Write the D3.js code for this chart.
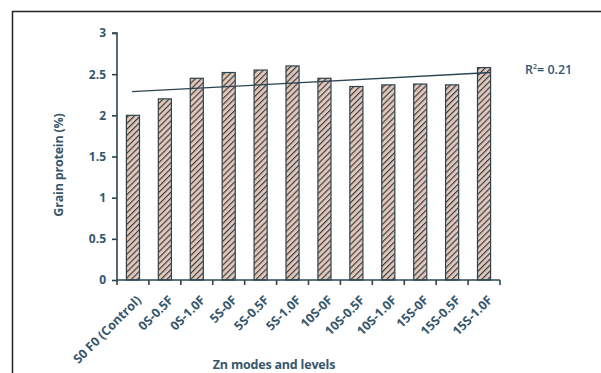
<!DOCTYPE html>
<html>
<head>
<meta charset="utf-8">
<script src="https://cdn.jsdelivr.net/npm/d3@7"></script>
<style>
  html, body { margin: 0; padding: 0; background: #fff; }
  svg { display: block; }
  text { font-family: "Open Sans", "DejaVu Sans", sans-serif; font-weight: 700; fill: #37566a; }
</style>
</head>
<body>
<svg id="chart" width="601" height="373"></svg>
<script>
// Zn application mode/level and grain protein content
const categories = ["S0 F0 (Control)", "0S-0.5F", "0S-1.0F", "5S-0F", "5S-0.5F", "5S-1.0F",
                    "10S-0F", "10S-0.5F", "10S-1.0F", "15S-0F", "15S-0.5F", "15S-1.0F"];
const protein = [2.0, 2.2, 2.45, 2.52, 2.55, 2.6, 2.45, 2.35, 2.37, 2.38, 2.37, 2.58];
const yTicks = [0, 0.5, 1, 1.5, 2, 2.5, 3];
const r2Label = "0.21";

const svg = d3.select("#chart");
const margin = { left: 117, right: 101, top: 33, bottom: 93 };
const W = 601, H = 373;

// frame around the figure
svg.append("path")
  .attr("d", `M12.5,373 V11.5 H601`)
  .attr("fill", "none").attr("stroke", "#222").attr("stroke-width", 1.5);

const x = d3.scaleBand().domain(categories)
  .range([margin.left, W - margin.right]).paddingInner(0.59).paddingOuter(0.295);
const y = d3.scaleLinear().domain([0, 3]).range([H - margin.bottom, margin.top]);

// diagonal hatch fill
const defs = svg.append("defs");
const pat = defs.append("pattern").attr("id", "hatch")
  .attr("patternUnits", "userSpaceOnUse").attr("width", 4.2).attr("height", 4.2)
  .attr("patternTransform", "rotate(45)");
pat.append("rect").attr("width", 4.2).attr("height", 4.2).attr("fill", "#e7c5b4");
pat.append("line").attr("x1", 0).attr("y1", 0).attr("x2", 0).attr("y2", 4.2)
  .attr("stroke", "#283f4c").attr("stroke-width", 2.3);

svg.append("g").selectAll("rect").data(protein).join("rect")
  .attr("x", (d, i) => x(categories[i]))
  .attr("y", d => y(d))
  .attr("width", x.bandwidth())
  .attr("height", d => y(0) - y(d))
  .attr("fill", "url(#hatch)")
  .attr("stroke", "#2c4452").attr("stroke-width", 1.2);

// y axis
const yAxis = svg.append("g").attr("transform", `translate(${margin.left},0)`)
  .call(d3.axisLeft(y).tickValues(yTicks).tickSize(5).tickPadding(6).tickFormat(d3.format("")));
yAxis.select(".domain").attr("stroke", "#2c4452").attr("stroke-width", 1.6)
  .attr("d", `M-5,${y(3)}H0V${y(0)}`);
yAxis.selectAll(".tick line").attr("stroke", "#2c4452").attr("stroke-width", 1.6);
yAxis.selectAll(".tick text").style("font-size", "12px").attr("fill", "#37566a");

// x axis with ticks between categories
const xAxisG = svg.append("g").attr("transform", `translate(0,${y(0)})`);
xAxisG.append("line").attr("x1", margin.left).attr("x2", W - margin.right)
  .attr("stroke", "#2c4452").attr("stroke-width", 1.6);
const boundaries = d3.range(categories.length + 1).map(i => margin.left + (W - margin.left - margin.right) * i / categories.length);
xAxisG.selectAll(".xt").data(boundaries).join("line")
  .attr("x1", d => d).attr("x2", d => d).attr("y1", 0).attr("y2", 5)
  .attr("stroke", "#2c4452").attr("stroke-width", 1.6);
xAxisG.selectAll(".xl").data(categories).join("text")
  .attr("transform", d => `translate(${x(d) + x.bandwidth() / 2 + 9},${21}) rotate(-45)`)
  .attr("text-anchor", "end")
  .style("font-size", "12.5px")
  .text(d => d);

// linear trend line (least squares over category index)
const idx = protein.map((d, i) => i + 1);
const mx = d3.mean(idx), my = d3.mean(protein);
const slope = d3.sum(idx, (v, i) => (v - mx) * (protein[i] - my)) / d3.sum(idx, v => (v - mx) ** 2);
const icpt = my - slope * mx;
const xi = d3.scaleLinear().domain([1, 12]).range([x(categories[0]) + x.bandwidth() / 2, x(categories[11]) + x.bandwidth() / 2]);
const t0 = 0.97, t1 = 12.22;
svg.append("line")
  .attr("x1", xi(t0)).attr("y1", y(icpt + slope * t0))
  .attr("x2", xi(t1)).attr("y2", y(icpt + slope * t1))
  .attr("stroke", "#2c4452").attr("stroke-width", 1.3);

// R² label
const r2 = svg.append("text").attr("x", 525).attr("y", 74).style("font-size", "12.5px").style("font-weight", 600);
r2.append("tspan").text("R");
r2.append("tspan").attr("dy", -5).style("font-size", "7px").text("2");
r2.append("tspan").attr("dy", 5).text("= " + r2Label);

// axis titles
svg.append("text").attr("transform", `translate(63,165) rotate(-90)`)
  .attr("text-anchor", "middle").style("font-size", "12.5px").style("letter-spacing", "-0.2px").text("Grain protein (%)");
svg.append("text").attr("x", 274).attr("y", 369)
  .attr("text-anchor", "middle").style("font-size", "12.5px").style("letter-spacing", "-0.2px").text("Zn modes and levels");
</script>
</body>
</html>
